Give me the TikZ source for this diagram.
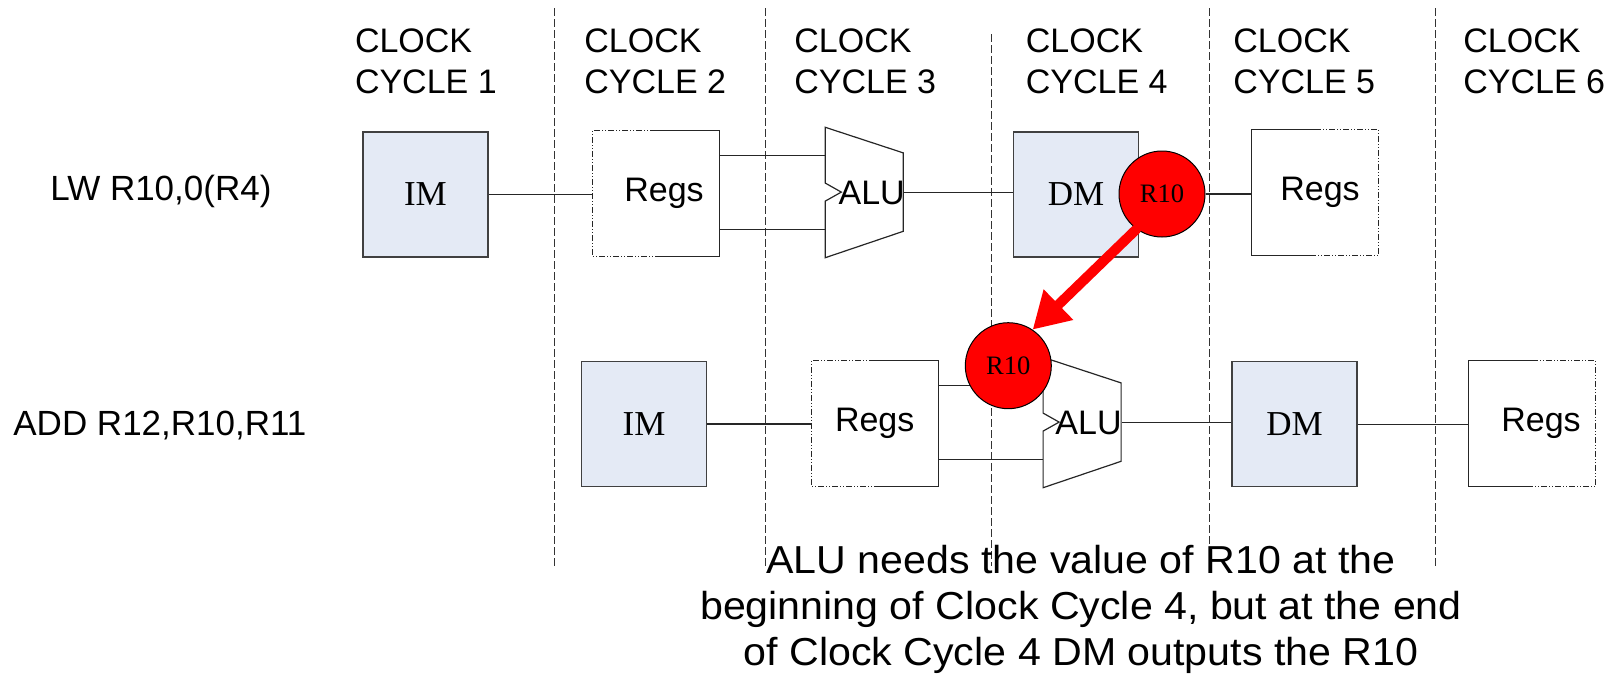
\documentclass[tikz,border=0pt]{standalone}
\usepackage{fontspec}
\setmainfont{Liberation Sans}
\newfontfamily\tnr{Liberation Serif}
\newfontfamily\notefont[FakeStretch=1.055]{Liberation Sans}
\usepackage{xcolor}
\usepackage{tikz}
\usetikzlibrary{arrows.meta, positioning, calc}

\definecolor{memblue}{HTML}{E4EAF5}

% register file: one half solid, the other half dash-dot
\newcommand{\readregs}[1]{%
	\draw[halfdash] (#1.north) -- (#1.north west) -- (#1.south west) -- (#1.south);
	\draw[halfsolid] (#1.north) -- (#1.north east) -- (#1.south east) -- (#1.south);}
\newcommand{\writeregs}[1]{%
	\draw[halfsolid] (#1.north) -- (#1.north west) -- (#1.south west) -- (#1.south);
	\draw[halfdash] (#1.north) -- (#1.north east) -- (#1.south east) -- (#1.south);}
% alu outline round its node
\newcommand{\aluframe}[1]{%
	\draw[halfsolid] (#1.north west) -- ++(78,25.6) -- ++(0,78.4) -- (#1.south west)
		-- ++(0,-56.6) -- ++(16,-9) -- ++(-16,-9) -- cycle;
	\coordinate (#1in1) at ($(#1.west)+(0,-37)$);
	\coordinate (#1in2) at ($(#1.west)+(0,37)$);}
% text a little off centre, box unchanged
\newcommand{\nudge}[2]{\hspace*{#1}#2\hspace*{-#1}}

\begin{document}
\begin{tikzpicture}[x=0.5pt, y=-0.5pt,
			every node/.style={inner sep=0pt},
			cyc/.style={align=left, font=\fontsize{17}{20.75}\selectfont},
			instr/.style={font=\fontsize{17.5}{20}\selectfont},
			sep/.style={black!80, line width=0.5pt, dash pattern=on 4pt off 1.5pt},
			wire/.style={black!85, line width=0.6pt},
			halfsolid/.style={black!85, line width=0.6pt},
			halfdash/.style={black!85, line width=0.6pt,
				dash pattern=on 3pt off 1pt on 0.5pt off 1pt on 0.5pt off 1pt},
			mem/.style={draw=black!75, fill=memblue, line width=0.7pt,
				minimum width=62.5pt, minimum height=62.5pt,
				font=\tnr\fontsize{17.5}{20}\selectfont},
			regs/.style={minimum width=63pt, minimum height=62.5pt,
				font=\fontsize{17}{20}\selectfont},
			alu/.style={minimum width=39pt, minimum height=64.8pt,
				font=\fontsize{17}{20}\selectfont},
			reg10/.style={circle, draw=black, fill=red, line width=0.5pt,
				minimum size=43pt, font=\tnr\fontsize{13.3}{15}\selectfont},
			fwd/.style={red, line width=5pt, line cap=round,
				-{Triangle[length=18pt, width=20pt]}},
			note/.style={align=center, font=\notefont\fontsize{19.5}{23}\selectfont}]
			
			\useasboundingbox (0,0) rectangle (1621,680);
			
			% clock cycles
			\foreach \x/\n in {354.6/1, 584/2, 794/3, 1025.5/4, 1233/5, 1463/6}
				\node[cyc, anchor=north west] (cc\n) at (\x,28) {CLOCK\\CYCLE \n};
			\foreach \x/\t in {554/8, 765/8, 991/34, 1209/8, 1435.5/8}
				\draw[sep] (\x,\t) -- (\x,566);
			
			% lw
			\node[instr, anchor=base west] (lw) at (50,200.5) {LW R10,0(R4)};
			\node[mem] (im1) at (425.4,194.5) {IM};
			\node[regs] (rg1) at (656,193.5) {\nudge{4pt}{Regs}};
			\node[alu] (alu1) at (864.7,192.5) {\nudge{3.5pt}{ALU}};
			\node[mem] (dm1) at (1076,194.5) {DM};
			\node[regs] (rg1w) at (1315,192.5) {\nudge{2.5pt}{Regs}};
			\readregs{rg1}
			\aluframe{alu1}
			\writeregs{rg1w}
			
			% add
			\node[instr, anchor=base west] (add) at (13,435) {ADD R12,R10,R11};
			\node[mem] (im2) at (644,424) {IM};
			\node[regs] (rg2) at (874.7,423.2) {Regs};
			\node[alu] (alu2) at (1082.5,422.5) {\nudge{3pt}{ALU}};
			\node[mem] (dm2) at (1294.5,424.2) {DM};
			\node[regs] (rg2w) at (1532,423.4) {\nudge{4.5pt}{Regs}};
			\readregs{rg2}
			\aluframe{alu2}
			\writeregs{rg2w}
			
			\draw[wire] (im1.east) -- (im1.east -| rg1.west);
			\draw[wire] (rg1.east |- alu1in1) -- (alu1in1);
			\draw[wire] (rg1.east |- alu1in2) -- (alu1in2);
			\draw[wire] (alu1.east) -- (alu1.east -| dm1.west);
			
			\draw[wire] (im2.east) -- (im2.east -| rg2.west);
			\draw[wire] (rg2.east |- alu2in1) -- (alu2in1);
			\draw[wire] (rg2.east |- alu2in2) -- (alu2in2);
			\draw[wire] (alu2.east) -- (alu2.east -| dm2.west);
			\draw[wire] (dm2.east) -- (dm2.east -| rg2w.west);
			
			% forwarding
			\node[reg10] (r10a) at (1162,194) {R10};
			\node[reg10] (r10b) at (1008.3,365.7) {R10};
			\draw[wire] (r10a.east) -- (r10a.east -| rg1w.west);
			\draw[fwd] (r10a.234) -- (r10b.56);
			
			\node[note, anchor=north] (msg) at (1081,545)
				{ALU needs the value of R10 at the\\beginning of Clock Cycle 4, but at the end\\of Clock Cycle 4 DM outputs the R10};
		\end{tikzpicture}
\end{document}
